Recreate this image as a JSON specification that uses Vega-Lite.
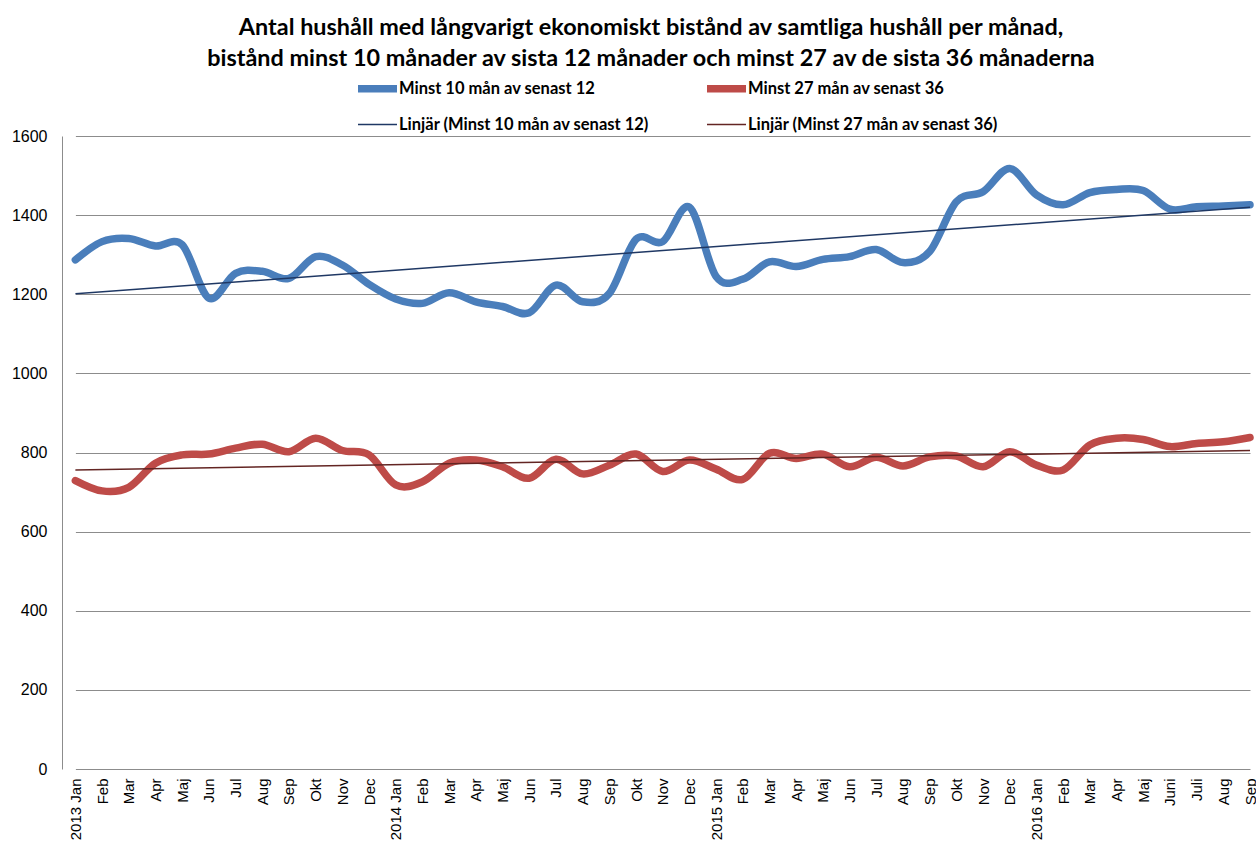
{
  "$schema": "https://vega.github.io/schema/vega-lite/v6.json",
  "width": 1194,
  "height": 633,
  "autosize": {"type": "none"},
  "padding": {"left": 62, "top": 136, "right": 0, "bottom": 75},
  "background": "white",
  "title": {
    "text": ["Antal hushåll med långvarigt ekonomiskt bistånd av samtliga hushåll per månad,", "bistånd minst 10 månader av sista 12 månader och minst 27 av de sista 36 månaderna"],
    "font": "Lato",
    "fontSize": 23.4,
    "fontWeight": "bold",
    "color": "#000000",
    "anchor": "middle",
    "offset": -6,
    "dx": -8,
    "lineHeight": 31
  },
  "config": {
    "view": {"stroke": null}
  },
  "datasets": {
    "series": [
      {"month": "2013-01", "series": "Minst 10 mån av senast 12", "value": 1287},
      {"month": "2013-02", "series": "Minst 10 mån av senast 12", "value": 1333},
      {"month": "2013-03", "series": "Minst 10 mån av senast 12", "value": 1341},
      {"month": "2013-04", "series": "Minst 10 mån av senast 12", "value": 1322},
      {"month": "2013-05", "series": "Minst 10 mån av senast 12", "value": 1325},
      {"month": "2013-06", "series": "Minst 10 mån av senast 12", "value": 1190},
      {"month": "2013-07", "series": "Minst 10 mån av senast 12", "value": 1253},
      {"month": "2013-08", "series": "Minst 10 mån av senast 12", "value": 1258},
      {"month": "2013-09", "series": "Minst 10 mån av senast 12", "value": 1240},
      {"month": "2013-10", "series": "Minst 10 mån av senast 12", "value": 1295},
      {"month": "2013-11", "series": "Minst 10 mån av senast 12", "value": 1274},
      {"month": "2013-12", "series": "Minst 10 mån av senast 12", "value": 1225},
      {"month": "2014-01", "series": "Minst 10 mån av senast 12", "value": 1188},
      {"month": "2014-02", "series": "Minst 10 mån av senast 12", "value": 1177},
      {"month": "2014-03", "series": "Minst 10 mån av senast 12", "value": 1204},
      {"month": "2014-04", "series": "Minst 10 mån av senast 12", "value": 1181},
      {"month": "2014-05", "series": "Minst 10 mån av senast 12", "value": 1169},
      {"month": "2014-06", "series": "Minst 10 mån av senast 12", "value": 1153},
      {"month": "2014-07", "series": "Minst 10 mån av senast 12", "value": 1223},
      {"month": "2014-08", "series": "Minst 10 mån av senast 12", "value": 1181},
      {"month": "2014-09", "series": "Minst 10 mån av senast 12", "value": 1202},
      {"month": "2014-10", "series": "Minst 10 mån av senast 12", "value": 1339},
      {"month": "2014-11", "series": "Minst 10 mån av senast 12", "value": 1333},
      {"month": "2014-12", "series": "Minst 10 mån av senast 12", "value": 1420},
      {"month": "2015-01", "series": "Minst 10 mån av senast 12", "value": 1245},
      {"month": "2015-02", "series": "Minst 10 mån av senast 12", "value": 1238},
      {"month": "2015-03", "series": "Minst 10 mån av senast 12", "value": 1282},
      {"month": "2015-04", "series": "Minst 10 mån av senast 12", "value": 1270},
      {"month": "2015-05", "series": "Minst 10 mån av senast 12", "value": 1288},
      {"month": "2015-06", "series": "Minst 10 mån av senast 12", "value": 1295},
      {"month": "2015-07", "series": "Minst 10 mån av senast 12", "value": 1313},
      {"month": "2015-08", "series": "Minst 10 mån av senast 12", "value": 1280},
      {"month": "2015-09", "series": "Minst 10 mån av senast 12", "value": 1308},
      {"month": "2015-10", "series": "Minst 10 mån av senast 12", "value": 1434},
      {"month": "2015-11", "series": "Minst 10 mån av senast 12", "value": 1459},
      {"month": "2015-12", "series": "Minst 10 mån av senast 12", "value": 1518},
      {"month": "2016-01", "series": "Minst 10 mån av senast 12", "value": 1451},
      {"month": "2016-02", "series": "Minst 10 mån av senast 12", "value": 1426},
      {"month": "2016-03", "series": "Minst 10 mån av senast 12", "value": 1457},
      {"month": "2016-04", "series": "Minst 10 mån av senast 12", "value": 1465},
      {"month": "2016-05", "series": "Minst 10 mån av senast 12", "value": 1462},
      {"month": "2016-06", "series": "Minst 10 mån av senast 12", "value": 1415},
      {"month": "2016-07", "series": "Minst 10 mån av senast 12", "value": 1421},
      {"month": "2016-08", "series": "Minst 10 mån av senast 12", "value": 1423},
      {"month": "2016-09", "series": "Minst 10 mån av senast 12", "value": 1426},
      {"month": "2013-01", "series": "Minst 27 mån av senast 36", "value": 729},
      {"month": "2013-02", "series": "Minst 27 mån av senast 36", "value": 703},
      {"month": "2013-03", "series": "Minst 27 mån av senast 36", "value": 712},
      {"month": "2013-04", "series": "Minst 27 mån av senast 36", "value": 773},
      {"month": "2013-05", "series": "Minst 27 mån av senast 36", "value": 794},
      {"month": "2013-06", "series": "Minst 27 mån av senast 36", "value": 796},
      {"month": "2013-07", "series": "Minst 27 mån av senast 36", "value": 811},
      {"month": "2013-08", "series": "Minst 27 mån av senast 36", "value": 821},
      {"month": "2013-09", "series": "Minst 27 mån av senast 36", "value": 802},
      {"month": "2013-10", "series": "Minst 27 mån av senast 36", "value": 836},
      {"month": "2013-11", "series": "Minst 27 mån av senast 36", "value": 805},
      {"month": "2013-12", "series": "Minst 27 mån av senast 36", "value": 794},
      {"month": "2014-01", "series": "Minst 27 mån av senast 36", "value": 718},
      {"month": "2014-02", "series": "Minst 27 mån av senast 36", "value": 726},
      {"month": "2014-03", "series": "Minst 27 mån av senast 36", "value": 773},
      {"month": "2014-04", "series": "Minst 27 mån av senast 36", "value": 781},
      {"month": "2014-05", "series": "Minst 27 mån av senast 36", "value": 764},
      {"month": "2014-06", "series": "Minst 27 mån av senast 36", "value": 735},
      {"month": "2014-07", "series": "Minst 27 mån av senast 36", "value": 783},
      {"month": "2014-08", "series": "Minst 27 mån av senast 36", "value": 746},
      {"month": "2014-09", "series": "Minst 27 mån av senast 36", "value": 768},
      {"month": "2014-10", "series": "Minst 27 mån av senast 36", "value": 796},
      {"month": "2014-11", "series": "Minst 27 mån av senast 36", "value": 752},
      {"month": "2014-12", "series": "Minst 27 mån av senast 36", "value": 781},
      {"month": "2015-01", "series": "Minst 27 mån av senast 36", "value": 758},
      {"month": "2015-02", "series": "Minst 27 mån av senast 36", "value": 732},
      {"month": "2015-03", "series": "Minst 27 mån av senast 36", "value": 798},
      {"month": "2015-04", "series": "Minst 27 mån av senast 36", "value": 785},
      {"month": "2015-05", "series": "Minst 27 mån av senast 36", "value": 796},
      {"month": "2015-06", "series": "Minst 27 mån av senast 36", "value": 764},
      {"month": "2015-07", "series": "Minst 27 mån av senast 36", "value": 788},
      {"month": "2015-08", "series": "Minst 27 mån av senast 36", "value": 766},
      {"month": "2015-09", "series": "Minst 27 mån av senast 36", "value": 789},
      {"month": "2015-10", "series": "Minst 27 mån av senast 36", "value": 791},
      {"month": "2015-11", "series": "Minst 27 mån av senast 36", "value": 764},
      {"month": "2015-12", "series": "Minst 27 mån av senast 36", "value": 802},
      {"month": "2016-01", "series": "Minst 27 mån av senast 36", "value": 768},
      {"month": "2016-02", "series": "Minst 27 mån av senast 36", "value": 756},
      {"month": "2016-03", "series": "Minst 27 mån av senast 36", "value": 819},
      {"month": "2016-04", "series": "Minst 27 mån av senast 36", "value": 836},
      {"month": "2016-05", "series": "Minst 27 mån av senast 36", "value": 833},
      {"month": "2016-06", "series": "Minst 27 mån av senast 36", "value": 815},
      {"month": "2016-07", "series": "Minst 27 mån av senast 36", "value": 823},
      {"month": "2016-08", "series": "Minst 27 mån av senast 36", "value": 827},
      {"month": "2016-09", "series": "Minst 27 mån av senast 36", "value": 838}
    ],
    "trend": [
      {"month": "2013-01", "series": "Linjär (Minst 10 mån av senast 12)", "value": 1201},
      {"month": "2016-09", "series": "Linjär (Minst 10 mån av senast 12)", "value": 1420},
      {"month": "2013-01", "series": "Linjär (Minst 27 mån av senast 36)", "value": 756},
      {"month": "2016-09", "series": "Linjär (Minst 27 mån av senast 36)", "value": 805}
    ]
  },
  "encoding": {
    "x": {
      "field": "month",
      "type": "ordinal",
      "scale": {"type": "point", "range": [13.4, 1188], "padding": 0},
      "axis": {
        "title": null,
        "domain": false,
        "ticks": false,
        "grid": false,
        "labelAngle": -90,
        "labelAlign": "right",
        "labelBaseline": "middle",
        "labelPadding": 9,
        "labelFont": "Liberation Sans",
        "labelFontSize": 15,
        "labelColor": "#000000",
        "labelOverlap": false,
        "labelExpr": "datum.value == '2016-06' ? 'Juni' : datum.value == '2016-07' ? 'Juli' : (substring(datum.value, 5, 7) == '01' ? substring(datum.value, 0, 4) + ' Jan' : ['Jan','Feb','Mar','Apr','Maj','Jun','Jul','Aug','Sep','Okt','Nov','Dec'][toNumber(substring(datum.value, 5, 7)) - 1])"
      }
    },
    "y": {
      "field": "value",
      "type": "quantitative",
      "scale": {"domain": [0, 1600], "nice": false},
      "axis": {
        "title": null,
        "values": [0, 200, 400, 600, 800, 1000, 1200, 1400, 1600],
        "format": "d",
        "grid": true,
        "gridColor": "#8c8c8c",
        "gridWidth": 1,
        "domain": true,
        "domainColor": "#8c8c8c",
        "ticks": false,
        "labelFont": "Liberation Sans",
        "labelFontSize": 16,
        "labelColor": "#000000",
        "labelPadding": 15
      }
    },
    "color": {
      "field": "series",
      "type": "nominal",
      "scale": {
        "domain": ["Minst 10 mån av senast 12", "Minst 27 mån av senast 36", "Linjär (Minst 10 mån av senast 12)", "Linjär (Minst 27 mån av senast 36)"],
        "range": ["#4a7ebb", "#be4b48", "#1f3864", "#632523"]
      },
      "legend": {
        "title": null,
        "orient": "none",
        "legendX": 292,
        "legendY": -71,
        "direction": "horizontal",
        "columns": 2,
        "columnPadding": 42,
        "rowPadding": -9,
        "symbolType": "stroke",
        "symbolSize": 1521,
        "labelFont": "Lato",
        "labelFontSize": 16.5,
        "labelFontWeight": "bold",
        "labelColor": "#000000",
        "labelOffset": -2,
        "labelLimit": 500
      }
    },
    "strokeWidth": {
      "field": "series",
      "type": "nominal",
      "scale": {
        "type": "ordinal",
        "domain": ["Minst 10 mån av senast 12", "Minst 27 mån av senast 36", "Linjär (Minst 10 mån av senast 12)", "Linjär (Minst 27 mån av senast 36)"],
        "range": [7.5, 7.5, 1.5, 1.5]
      },
      "legend": {
        "title": null,
        "orient": "none",
        "legendX": 292,
        "legendY": -71,
        "direction": "horizontal",
        "columns": 2,
        "columnPadding": 42,
        "rowPadding": -9,
        "symbolType": "stroke",
        "symbolSize": 1521,
        "labelFont": "Lato",
        "labelFontSize": 16.5,
        "labelFontWeight": "bold",
        "labelColor": "#000000",
        "labelOffset": -2,
        "labelLimit": 500
      }
    }
  },
  "layer": [
    {
      "data": {"name": "series"},
      "mark": {"type": "line", "interpolate": "cardinal", "strokeCap": "round", "strokeJoin": "round"}
    },
    {
      "data": {"name": "trend"},
      "mark": {"type": "line"}
    }
  ]
}
